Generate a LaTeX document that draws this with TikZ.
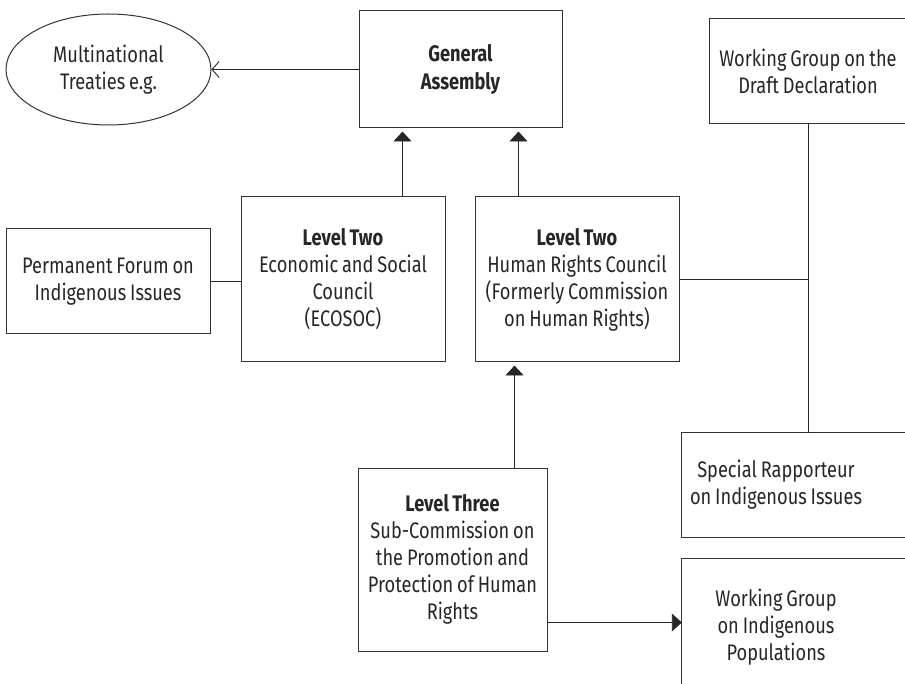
\documentclass[tikz,border=0pt]{standalone}
\usepackage{fontspec}
\setmainfont{Fira Sans}[FakeStretch=0.81, WordSpace=0.8]
\usetikzlibrary{shapes.geometric,arrows.meta}

\begin{document}
\begin{tikzpicture}[x=1pt,y=-1pt,
	every node/.style={font=\fontsize{22.5}{27}\selectfont, text=black!85},
	box/.style={draw=black!80, line width=1pt, align=center, inner sep=0pt},
	rtext/.style={align=flush center, inner sep=0pt},
	link/.style={draw=black!85, line width=0.9pt},
	up/.style={link, -{Triangle[length=10pt,width=18pt]}, shorten >=3pt}]
		\useasboundingbox (0,0) rectangle (905,684);
		\clip (0,0) rectangle (905,684);
		\coordinate (edge) at (930,0);
		% top row
		\node (ell)[box, ellipse, minimum width=205pt, minimum height=111pt] at (108.5,69.5) {Multinational\\Treaties e.g.};
		\node (ga)[box, minimum width=203pt, minimum height=117pt, font=\fontsize{22.5}{28}\selectfont\bfseries] at (460.5,69.5) {General\\Assembly};
		\node (wgdd)[rtext, text width=196pt, minimum height=104pt] at (808,71) {Working Group on the\\Draft Declaration};
		\draw [box](wgdd.north west) rectangle (wgdd.south -| edge);
		% level two
		\node (pf)[box, minimum width=204pt, minimum height=105pt] at (108,281.5) {Permanent Forum on\\Indigenous Issues};
		\node (eco)[box, minimum width=204pt, minimum height=165pt] at (343,279.5) {\textbf{Level Two}\\Economic and Social\\Council\\(ECOSOC)};
		\node (hrc)[box, minimum width=204pt, minimum height=165pt] at (577,279.5) {\textbf{Level Two}\\Human Rights Council\\(Formerly Commission\\on Human Rights)};
		% level three
		\node (sc)[box, minimum width=189pt, minimum height=183pt] at (452.5,559.5) {\textbf{Level Three}\\Sub-Commission on\\the Promotion and\\Protection of Human\\Rights};
		\node (sr)[rtext, text width=188pt, minimum height=104pt] at (776,485) {Special Rapporteur\\on Indigenous Issues};
		\draw [box](sr.north west) rectangle (sr.south -| edge);
		\node (wgip)[rtext, text width=188pt, minimum height=136pt] at (776,627) {Working Group\\on Indigenous\\Populations};
		\draw [box](wgip.north west) rectangle (wgip.south -| edge);
		% connectors
		\draw [link, -{Straight Barb[length=7pt,width=16pt]}](ga.west) -- (ell.east);
		\draw [up]([xshift=-58pt]ga.south |- eco.north) -- ([xshift=-58pt]ga.south);
		\draw [up]([xshift=58pt]ga.south |- hrc.north) -- ([xshift=58pt]ga.south);
		\draw [link](pf.east) -- (pf.east -| eco.west);
		\draw [link](wgdd.south) -- (wgdd.south |- sr.north);
		\draw [link](hrc.east) -- (hrc.east -| wgdd.south);
		\draw [up]([xshift=62pt]sc.north) -- ([xshift=62pt]sc.north |- hrc.south);
		\draw [up, shorten >=0pt]([yshift=-63pt]sc.east) -- ([yshift=-63pt]sc.east -| wgip.west);
	\end{tikzpicture}
\end{document}
